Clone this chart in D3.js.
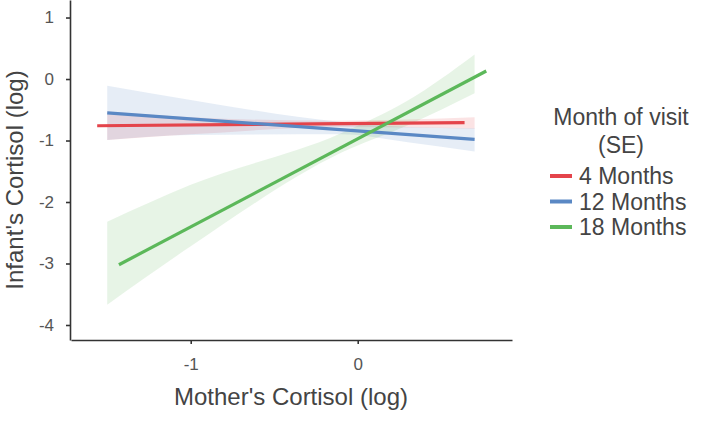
<!DOCTYPE html>
<html>
<head>
<meta charset="utf-8">
<script src="https://cdn.jsdelivr.net/npm/d3@7"></script>
<style>
  html, body { margin: 0; padding: 0; background: #fff; }
  svg { display: block; }
  text { font-family: "Liberation Sans", Arial, Helvetica, sans-serif; }
</style>
</head>
<body>
<svg id="chart" width="703" height="422"></svg>
<script>
// ---- Data ----
const groups = ["4 Months", "12 Months", "18 Months"];
const colors = ["#e4444b", "#5a88c4", "#5cb85a"];

// fitted line endpoints per group
const lineStartX = [-1.56, -1.50, -1.43];
const lineEndX   = [0.64, 0.70, 0.77];
const lineStartY = [-0.76, -0.55, -3.02];
const lineEndY   = [-0.71, -0.98, 0.13];

// SE ribbons (read at these x positions)
const bandX = [-1.5, -1.0, -0.1, 0.3, 0.7];
const redLower   = [-0.99, -0.90, -0.78, -0.79, -0.81];
const redUpper   = [-0.53, -0.62, -0.68, -0.66, -0.62];
const blueLower  = [-0.99, -0.91, -0.90, -1.03, -1.18];
const blueUpper  = [-0.11, -0.34, -0.70, -0.78, -0.80];
const greenLower = [-3.67, -2.72, -1.20, -0.75, -0.23];
const greenUpper = [-2.32, -1.72, -0.88, -0.35, 0.40];

const xTicks = [-1, 0];
const yTicks = [1, 0, -1, -2, -3, -4];

const xTitle = "Mother's Cortisol (log)";
const yTitle = "Infant's Cortisol (log)";
const legendTitle = ["Month of visit", "(SE)"];

// ---- Chart ----
const svg = d3.select("#chart");
const x = d3.scaleLinear().domain([-1.717, 0.924]).range([71, 512]);
const y = d3.scaleLinear().domain([1.285, -4.244]).range([0, 340]);

const bands = [
  bandX.map((v, i) => ({x: v, lo: redLower[i], hi: redUpper[i]})),
  bandX.map((v, i) => ({x: v, lo: blueLower[i], hi: blueUpper[i]})),
  bandX.map((v, i) => ({x: v, lo: greenLower[i], hi: greenUpper[i]}))
];

const area = d3.area()
  .x(d => x(d.x)).y0(d => y(d.lo)).y1(d => y(d.hi))
  .curve(d3.curveMonotoneX);

svg.append("g").selectAll("path").data(bands).join("path")
  .attr("d", area)
  .attr("fill", (d, i) => colors[i])
  .attr("fill-opacity", 0.15);

const lines = groups.map((g, i) => [
  {x: lineStartX[i], y: lineStartY[i]},
  {x: lineEndX[i], y: lineEndY[i]}
]);
const line = d3.line().x(d => x(d.x)).y(d => y(d.y));
svg.append("g").selectAll("path").data(lines).join("path")
  .attr("d", line)
  .attr("fill", "none")
  .attr("stroke", (d, i) => colors[i])
  .attr("stroke-width", 3.2);

// axes
const axisColor = "#333";
const gx = svg.append("g").attr("transform", "translate(0,340)")
  .call(d3.axisBottom(x).tickValues(xTicks).tickFormat(d3.format("d")).tickSize(4).tickSizeOuter(0).tickPadding(14));
const gy = svg.append("g").attr("transform", "translate(70,0)")
  .call(d3.axisLeft(y).tickValues(yTicks).tickFormat(d3.format("d")).tickSize(4).tickSizeOuter(0).tickPadding(12));
[gx, gy].forEach(g => {
  g.select(".domain").attr("stroke", axisColor).attr("stroke-width", 1.6);
  g.selectAll(".tick line").attr("stroke", axisColor).attr("stroke-width", 1.6);
  g.selectAll(".tick text").attr("fill", "#555").attr("font-size", 17)
    .attr("font-family", "'Liberation Sans', Arial, sans-serif");
});
gx.selectAll(".tick text").text(d => d < 0 ? "-" + Math.abs(d) : d);
gy.selectAll(".tick text").text(d => d < 0 ? "-" + Math.abs(d) : d);

// axis titles
svg.append("text").attr("x", 291).attr("y", 405)
  .attr("text-anchor", "middle").attr("font-size", 24).attr("fill", "#444")
  .text(xTitle);
svg.append("text").attr("transform", "translate(23,180) rotate(-90)")
  .attr("text-anchor", "middle").attr("font-size", 24).attr("fill", "#444")
  .text(yTitle);

// legend
const lg = svg.append("g");
lg.selectAll("text.lt").data(legendTitle).join("text")
  .attr("class", "lt")
  .attr("x", 621).attr("y", (d, i) => 125 + i * 28)
  .attr("text-anchor", "middle").attr("font-size", 23).attr("fill", "#444")
  .text(d => d);
const items = lg.selectAll("g.item").data(groups).join("g")
  .attr("class", "item")
  .attr("transform", (d, i) => `translate(0,${176 + i * 25.5})`);
items.append("line").attr("x1", 550).attr("x2", 572).attr("y1", 0).attr("y2", 0)
  .attr("stroke", (d, i) => colors[i]).attr("stroke-width", 4);
items.append("text").attr("x", 579).attr("y", 8)
  .attr("font-size", 23).attr("fill", "#444").text(d => d);
</script>
</body>
</html>
